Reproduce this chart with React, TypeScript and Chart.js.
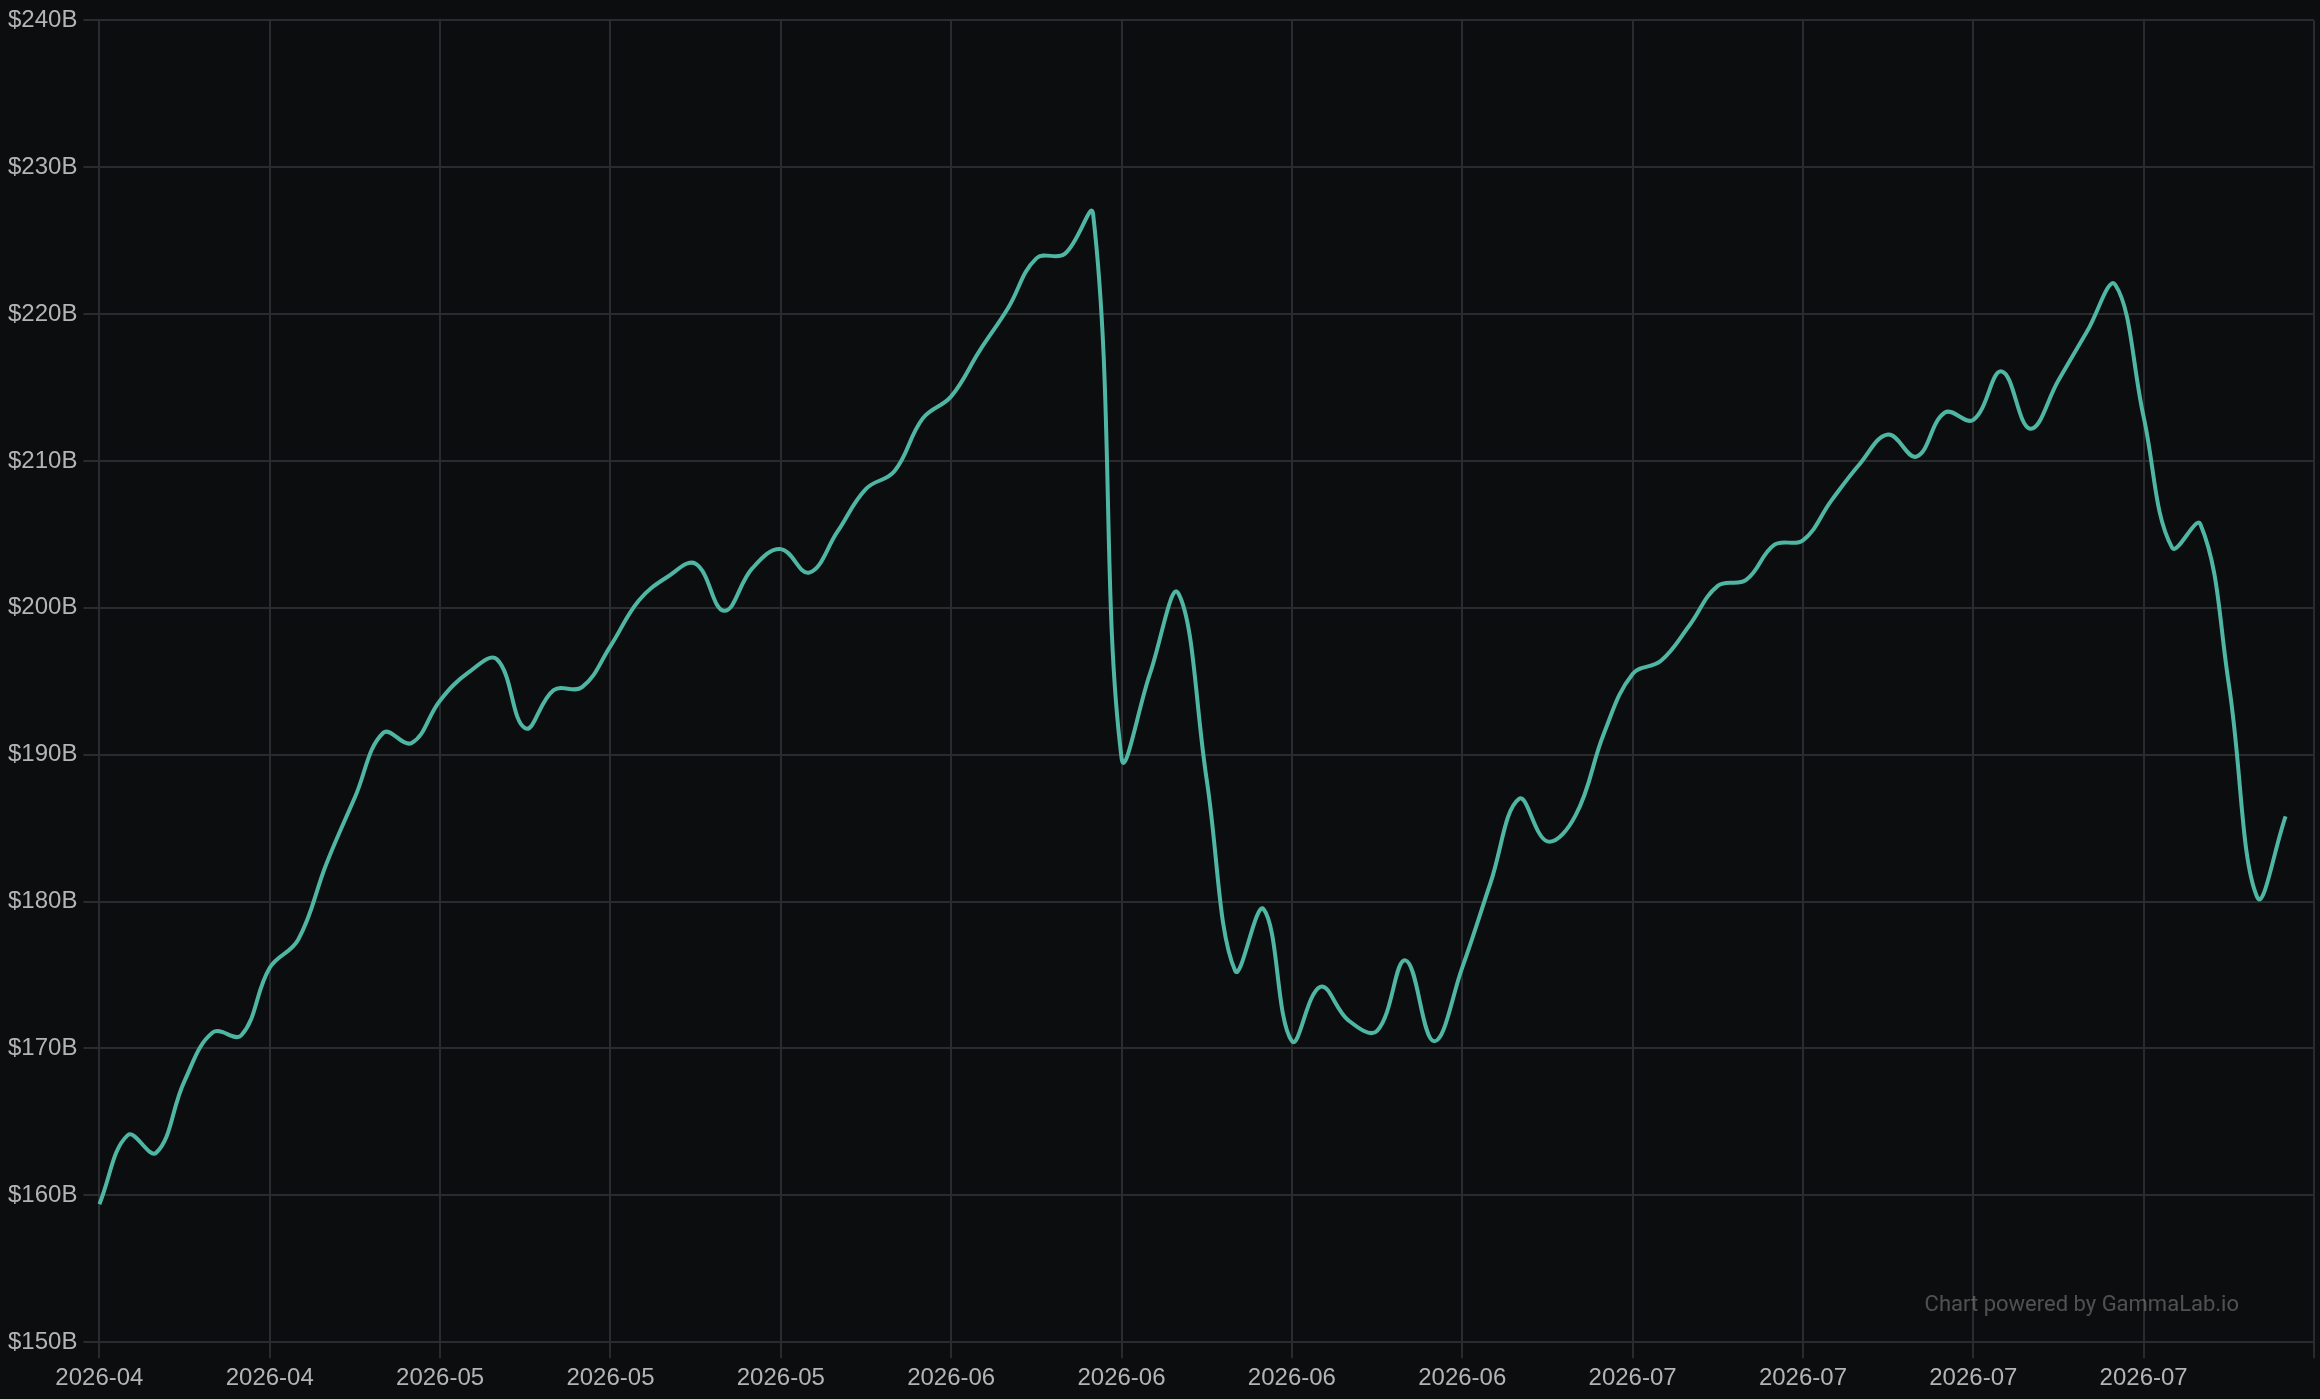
import React, { useEffect, useRef } from "react";
import { Chart, registerables } from "chart.js";

Chart.register(...registerables);

// Trading-day dates on the category axis (one per point, plus one trailing slot)
const dates: string[] = [
  "2026-04-21", "2026-04-22", "2026-04-23", "2026-04-24", "2026-04-27", "2026-04-28",
  "2026-04-29", "2026-04-30", "2026-05-01", "2026-05-04", "2026-05-05", "2026-05-06",
  "2026-05-07", "2026-05-08", "2026-05-11", "2026-05-12", "2026-05-13", "2026-05-14",
  "2026-05-15", "2026-05-18", "2026-05-19", "2026-05-20", "2026-05-21", "2026-05-22",
  "2026-05-25", "2026-05-26", "2026-05-27", "2026-05-28", "2026-05-29", "2026-06-01",
  "2026-06-02", "2026-06-03", "2026-06-04", "2026-06-05", "2026-06-08", "2026-06-09",
  "2026-06-10", "2026-06-11", "2026-06-12", "2026-06-15", "2026-06-16", "2026-06-17",
  "2026-06-18", "2026-06-19", "2026-06-22", "2026-06-23", "2026-06-24", "2026-06-25",
  "2026-06-26", "2026-06-29", "2026-06-30", "2026-07-01", "2026-07-02", "2026-07-03",
  "2026-07-06", "2026-07-07", "2026-07-08", "2026-07-09", "2026-07-10", "2026-07-13",
  "2026-07-14", "2026-07-15", "2026-07-16", "2026-07-17", "2026-07-20", "2026-07-21",
  "2026-07-22", "2026-07-23", "2026-07-24", "2026-07-27", "2026-07-28", "2026-07-29",
  "2026-07-30", "2026-07-31", "2026-08-03", "2026-08-04", "2026-08-05", "2026-08-06",
  "2026-08-07",
];

// Value in $ billions
const values: number[] = [
  159.4, 164.1, 162.9, 167.8, 171.1, 170.9, 175.5, 177.4, 182.6, 187.1,
  191.5, 190.8, 193.7, 195.6, 196.5, 191.8, 194.4, 194.6, 197.4, 200.5,
  202.1, 203.0, 199.8, 202.7, 204.0, 202.4, 205.2, 208.1, 209.3, 212.9,
  214.4, 217.5, 220.4, 223.8, 224.1, 226.8, 189.8, 195.5, 201.0, 188.3,
  175.3, 179.5, 170.5, 174.2, 171.9, 171.2, 176.0, 170.5, 175.5, 181.3,
  187.0, 184.1, 185.9, 191.5, 195.5, 196.4, 198.8, 201.5, 201.9, 204.3,
  204.6, 207.3, 209.8, 211.8, 210.3, 213.3, 212.8, 216.1, 212.2, 215.5,
  218.8, 222.0, 213.0, 204.1, 205.7, 194.8, 180.3, 185.8,
];

const yMin = 150;
const yMax = 240;
const yStep = 10;
const tickEvery = 6;
const watermark = "Chart powered by GammaLab.io";

const BG = "#0c0d0f";

export default function App() {
  const ref = useRef<HTMLCanvasElement | null>(null);

  useEffect(() => {
    document.body.style.margin = "0";
    document.body.style.background = BG;
    const canvas = ref.current;
    if (!canvas) return;

    const watermarkPlugin = {
      id: "watermark",
      afterDatasetsDraw(chart: any) {
        const { ctx, chartArea } = chart;
        ctx.save();
        ctx.font = "22px Roboto, 'Liberation Sans', Arial, sans-serif";
        ctx.fillStyle = "rgba(255,255,255,0.28)";
        ctx.textAlign = "right";
        ctx.textBaseline = "middle";
        ctx.fillText(watermark, chartArea.right - 75, chartArea.bottom - 37);
        ctx.restore();
      },
    };

    const chart = new Chart(canvas, {
      type: "line",
      data: {
        labels: dates,
        datasets: [
          {
            data: values,
            borderColor: "#4fb6a3",
            backgroundColor: "#4fb6a3",
            borderWidth: 4,
            pointRadius: 0,
            pointHoverRadius: 0,
            tension: 0.4,
            fill: false,
          },
        ],
      },
      options: {
        animation: false,
        responsive: false,
        devicePixelRatio: 1,
        layout: { padding: { top: 6, right: 6, bottom: 0, left: 2 } },
        plugins: {
          legend: { display: false },
          tooltip: { enabled: false },
        },
        scales: {
          x: {
            type: "category",
            offset: false,
            grid: {
              color: "#2a2b2e",
              lineWidth: 2,
              tickLength: 16,
              drawTicks: true,
            },
            border: { color: "#2a2b2e", width: 2 },
            ticks: {
              autoSkip: false,
              maxRotation: 0,
              minRotation: 0,
              padding: 6,
              color: "#b4b4b4",
              font: { family: "'Liberation Sans', Arial, Helvetica, sans-serif", size: 24 },
              callback: function (this: any, value: any, index: number) {
                if (index % tickEvery !== 0) return null;
                if (index === dates.length - 1) return "";
                return String(this.getLabelForValue(value)).slice(0, 7);
              },
            },
          },
          y: {
            min: yMin,
            max: yMax,
            grid: {
              color: "#2a2b2e",
              lineWidth: 2,
              tickLength: 16,
            },
            border: { color: "#2a2b2e", width: 2 },
            ticks: {
              stepSize: yStep,
              padding: 6,
              color: "#b4b4b4",
              font: { family: "'Liberation Sans', Arial, Helvetica, sans-serif", size: 24 },
              callback: (v: any) => "$" + v + "B",
            },
          },
        },
      },
      plugins: [watermarkPlugin],
    });

    return () => chart.destroy();
  }, []);

  return (
    <div style={{ width: 2320, height: 1399, background: BG }}>
      <canvas ref={ref} width={2320} height={1399} style={{ display: "block", width: 2320, height: 1399 }} />
    </div>
  );
}
